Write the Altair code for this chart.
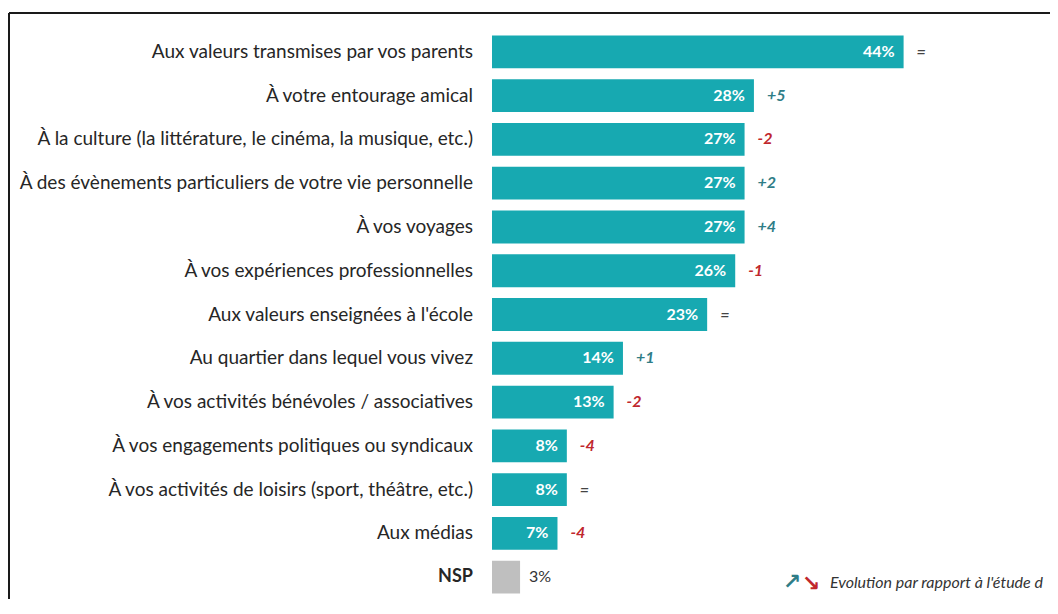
import altair as alt
import pandas as pd

categories = [
    "Aux valeurs transmises par vos parents",
    "À votre entourage amical",
    "À la culture (la littérature, le cinéma, la musique, etc.)",
    "À des évènements particuliers de votre vie personnelle",
    "À vos voyages",
    "À vos expériences professionnelles",
    "Aux valeurs enseignées à l'école",
    "Au quartier dans lequel vous vivez",
    "À vos activités bénévoles / associatives",
    "À vos engagements politiques ou syndicaux",
    "À vos activités de loisirs (sport, théâtre, etc.)",
    "Aux médias",
    "NSP",
]
values = [44, 28, 27, 27, 27, 26, 23, 14, 13, 8, 8, 7, 3]
changes = ["=", "+5", "-2", "+2", "+4", "-1", "=", "+1", "-2", "-4", "=", "-4", ""]
legend_text = "Evolution par rapport à l'étude d"

TEAL = "#17A9B1"
GREY = "#BFBFBF"
POS = "#2F7D87"
NEG = "#C0272D"
EQ = "#444444"
FONT = "Lato"

def chg_color(c):
    if c.startswith("+"):
        return POS
    if c.startswith("-"):
        return NEG
    return EQ

df = pd.DataFrame({
    "cat": categories,
    "value": values,
    "change": changes,
    "chgcol": [chg_color(c) for c in changes],
    "group": ["nsp" if c == "NSP" else "main" for c in categories],
    "barcol": [GREY if c == "NSP" else TEAL for c in categories],
    "label": [f"{v}%" for v in values],
})

W, H = 558, 569
xs = alt.Scale(domain=[0, 59.65])
ys = alt.Scale(domain=categories, paddingInner=0.25, paddingOuter=0.125)
X = alt.X("value:Q", scale=xs, axis=None)
Y = alt.Y("cat:N", scale=ys, axis=None, sort=categories)

base = alt.Chart(df)

bars = base.mark_bar().encode(
    x=X, y=Y, color=alt.Color("barcol:N", scale=None),
)

val_in = base.transform_filter("datum.group == 'main'").mark_text(
    align="right", baseline="middle", dx=-9, font=FONT, fontSize=16, fontWeight="bold", color="white"
).encode(x=X, y=Y, text="label:N")

val_out = base.transform_filter("datum.group == 'nsp'").mark_text(
    align="left", baseline="middle", dx=9, font=FONT, fontSize=16, color="#333333"
).encode(x=X, y=Y, text="label:N")

chg = base.transform_filter("datum.change != ''").mark_text(
    align="left", baseline="middle", dx=13, font=FONT, fontSize=16, fontStyle="italic", fontWeight="bold"
).encode(x=X, y=Y, text="change:N", color=alt.Color("chgcol:N", scale=None))

cat_labels = base.transform_filter("datum.group == 'main'").mark_text(
    align="right", baseline="middle", font=FONT, fontSize=19, color="#262626"
).encode(x=alt.value(-19), y=Y, text="cat:N")

cat_nsp = base.transform_filter("datum.group == 'nsp'").mark_text(
    align="right", baseline="middle", font=FONT, fontSize=18, fontWeight="bold", color="#262626"
).encode(x=alt.value(-19), y=Y, text="cat:N")

one = pd.DataFrame({"k": [0]})
frame_top = alt.Chart(one).mark_rule(color="#1a1a1a", strokeWidth=2).encode(
    x=alt.value(-483), x2=alt.value(W), y=alt.value(-17)
)
frame_left = alt.Chart(one).mark_rule(color="#1a1a1a", strokeWidth=2).encode(
    x=alt.value(-483), y=alt.value(-17), y2=alt.value(H)
)

leg = pd.DataFrame({"t": [legend_text], "up": ["↗"], "down": ["↘"]})
leg_up = alt.Chart(leg).mark_text(align="center", baseline="middle", fontSize=22, fontWeight="bold",
                                  font="DejaVu Sans", color=POS).encode(
    x=alt.value(300), y=alt.value(552), text="up:N")
leg_down = alt.Chart(leg).mark_text(align="center", baseline="middle", fontSize=22, fontWeight="bold",
                                    font="DejaVu Sans", color=NEG).encode(
    x=alt.value(319), y=alt.value(554), text="down:N")
leg_txt = alt.Chart(leg).mark_text(align="left", baseline="middle", fontSize=16, fontStyle="italic",
                                   font=FONT, color="#333333").encode(
    x=alt.value(338), y=alt.value(553), text="t:N")

chart = alt.layer(
    frame_top, frame_left, bars, val_in, val_out, chg, cat_labels, cat_nsp, leg_up, leg_down, leg_txt
).properties(
    width=W, height=H,
    autosize=alt.AutoSizeParams(type="none"),
    padding={"left": 484, "top": 22, "right": 0, "bottom": 0},
).configure_view(stroke=None)

chart.save("out.html", embed_options={"renderer": "svg", "actions": False})
